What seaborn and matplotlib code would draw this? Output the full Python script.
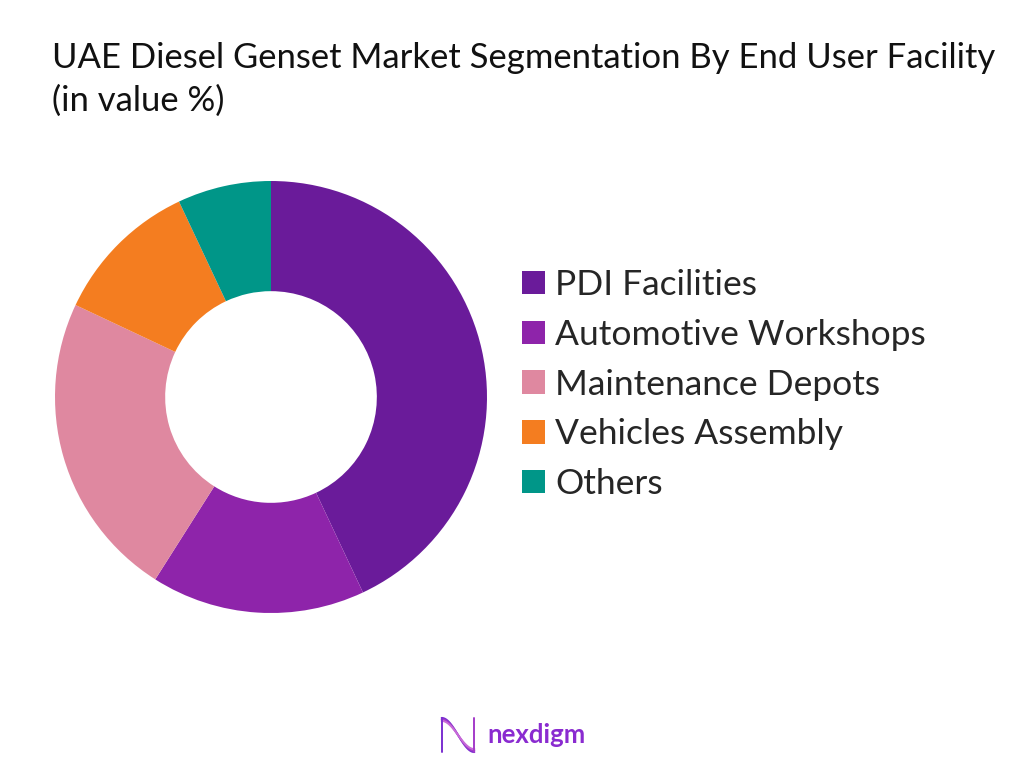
import numpy as np
import matplotlib
matplotlib.use("Agg")
import matplotlib.pyplot as plt
import seaborn as sns
from matplotlib.patches import Patch

# data
segments = ["PDI Facilities", "Automotive Workshops", "Maintenance Depots",
            "Vehicles Assembly", "Others"]
shares = [43, 16, 23, 11, 7]
colors = ["#6A1B9A", "#8E24AA", "#DF88A0", "#F47D20", "#009688"]

sns.set_theme(style="white")
plt.rcParams['font.family'] = ['Lato', 'DejaVu Sans']

W, H = 1024, 768
fig = plt.figure(figsize=(W / 100, H / 100), dpi=100)
fig.patch.set_facecolor("white")

# donut: centre (271, 397), outer radius 216 px
cx, cy, r = 271, 397, 216
ax = fig.add_axes([(cx - r) / W, (H - cy - r) / H, 2 * r / W, 2 * r / H])
ax.pie(shares, colors=colors, startangle=90, counterclock=False,
       radius=1.0, wedgeprops=dict(width=0.51, edgecolor="none"))
ax.set_xlim(-1, 1)
ax.set_ylim(-1, 1)
ax.set_aspect("equal")
ax.axis("off")

# title
fig.text(52 / W, 1 - 58 / H, "UAE Diesel Genset Market Segmentation By End User Facility",
         fontsize=24.9, color="#111111", va="center", ha="left")
fig.text(52 / W, 1 - 101 / H, "(in value %)",
         fontsize=24.9, color="#111111", va="center", ha="left")

# legend
handles = [Patch(facecolor=c, edgecolor="none") for c in colors]
fig.legend(handles, segments, loc="upper left",
           bbox_to_anchor=(508 / W, 1 - 255 / H), frameon=False,
           fontsize=25.5, handlelength=0.64, handleheight=0.64,
           handletextpad=0.3, labelspacing=0.5, borderaxespad=0)

# nexdigm logo
lx = fig.add_axes([440 / W, 1 - 754 / H, 36 / W, 38 / H])
t = np.linspace(0, 1, 100)
for k, a in enumerate([0.0, 0.08, 0.16]):
    xs = t
    ys = 0.5 + (0.45 - a * 0.5) * np.cos(np.pi * t)
    lx.plot(xs, ys, color=["#7B2FD0", "#A43BC9", "#C86BD8"][k], lw=1.4)
lx.plot([0.02, 0.02], [0.05, 0.95], color="#7B2FD0", lw=1.4)
lx.plot([0.98, 0.98], [0.05, 0.95], color="#A43BC9", lw=1.4)
lx.set_xlim(-0.05, 1.05)
lx.set_ylim(0, 1)
lx.axis("off")
fig.text(487 / W, 1 - 735 / H, "nexdigm", fontsize=18.5, fontweight="bold",
         color="#8A2BD0", va="center", ha="left")

fig.savefig("out.png", dpi=100, facecolor="white")
